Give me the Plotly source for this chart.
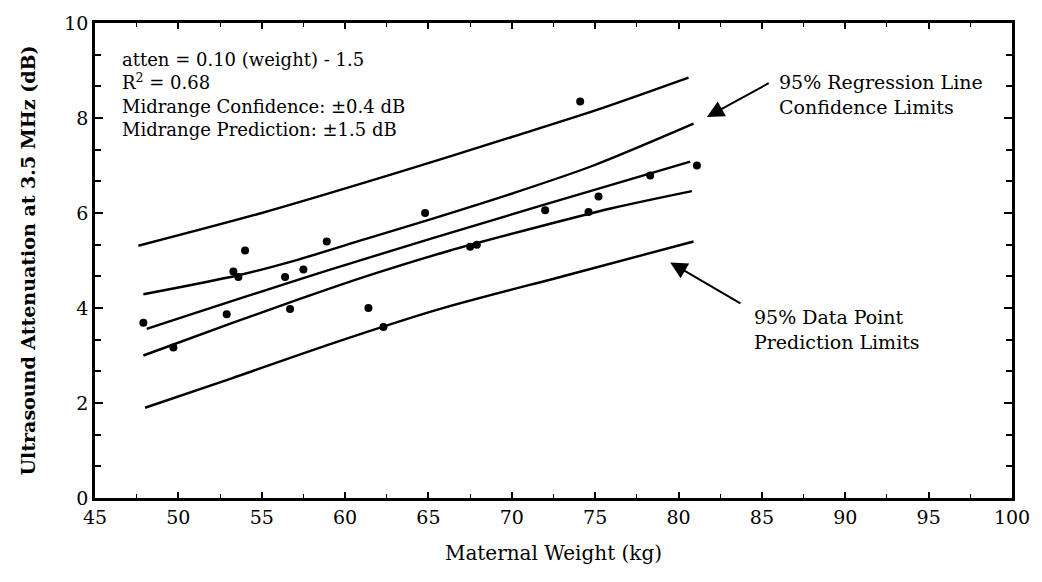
import plotly.graph_objects as go

# ---- data ----
weight = [47.9, 49.7, 52.9, 53.3, 53.6, 54.0, 56.4, 56.7, 57.5, 58.9, 61.4, 62.3,
          64.8, 67.5, 67.9, 72.0, 74.1, 74.6, 75.2, 78.3, 81.1]
atten = [3.69, 3.17, 3.87, 4.77, 4.65, 5.21, 4.65, 3.98, 4.81, 5.40, 4.00, 3.60,
         6.00, 5.29, 5.33, 6.06, 8.35, 6.02, 6.35, 6.79, 7.00]

upper_pred_x = [47.6, 55.0, 62.4, 70.0, 75.1, 80.6]
upper_pred_y = [5.31, 6.00, 6.77, 7.60, 8.17, 8.85]

upper_conf_x = [47.9, 53.6, 57.2, 61.2, 65.6, 70.1, 74.9, 80.9]
upper_conf_y = [4.29, 4.69, 5.02, 5.45, 5.92, 6.42, 7.00, 7.88]

regress_x = [48.1, 59.2, 71.7, 80.7]
regress_y = [3.56, 4.82, 6.15, 7.08]

lower_conf_x = [47.9, 53.2, 57.2, 61.2, 66.2, 71.5, 76.0, 80.8]
lower_conf_y = [3.00, 3.68, 4.18, 4.66, 5.20, 5.70, 6.10, 6.46]

lower_pred_x = [48.0, 53.2, 59.2, 65.6, 73.3, 80.9]
lower_pred_y = [1.90, 2.52, 3.25, 3.97, 4.69, 5.40]

FONT = "DejaVu Serif"

fig = go.Figure()
line_style = dict(color="black", width=2.4)
for xs, ys in [(upper_pred_x, upper_pred_y), (upper_conf_x, upper_conf_y),
               (regress_x, regress_y), (lower_conf_x, lower_conf_y),
               (lower_pred_x, lower_pred_y)]:
    fig.add_trace(go.Scatter(x=xs, y=ys, mode="lines",
                             line=dict(shape="spline", smoothing=0.8, **line_style),
                             showlegend=False, hoverinfo="skip"))

fig.add_trace(go.Scatter(x=weight, y=atten, mode="markers",
                         marker=dict(color="black", size=8), showlegend=False))

fig.update_layout(
    width=1042, height=582,
    margin=dict(l=95, r=24, t=17, b=84),
    paper_bgcolor="white", plot_bgcolor="white",
    font=dict(family=FONT, color="black", size=18),
    xaxis=dict(range=[45, 100], tickmode="linear", tick0=45, dtick=5,
               ticks="inside", ticklen=6, tickwidth=1.5, tickcolor="black",
               showline=True, linecolor="black", linewidth=2.5, mirror="allticks",
               showgrid=False, zeroline=False,
               minor=dict(dtick=2.5, tick0=45, ticks="inside", ticklen=4, tickwidth=1.2,
                          tickcolor="black", showgrid=False),
               tickfont=dict(family=FONT, size=19),
               title=dict(text="Maternal Weight (kg)", font=dict(family=FONT, size=20), standoff=20)),
    yaxis=dict(range=[0, 10], tickmode="linear", tick0=0, dtick=2,
               ticks="inside", ticklen=8, tickwidth=2, tickcolor="black",
               showline=True, linecolor="black", linewidth=2.5, mirror="allticks",
               showgrid=False, zeroline=False,
               minor=dict(dtick=2/3, tick0=0, ticks="inside", ticklen=6, tickwidth=1.5,
                          tickcolor="black", showgrid=False),
               tickfont=dict(family=FONT, size=19),
               title=dict(text="<b>Ultrasound Attenuation at 3.5 MHz (dB)</b>",
                          font=dict(family=FONT, size=19), standoff=24)),
)

fig.add_annotation(xref="x", yref="y", x=46.5, y=8.5, xanchor="left", yanchor="middle",
                   align="left", showarrow=False,
                   text="atten = 0.10 (weight) - 1.5<br>R<sup>2</sup> = 0.68<br>"
                        "Midrange Confidence: ±0.4 dB<br>Midrange Prediction: ±1.5 dB",
                   font=dict(family=FONT, size=18))

fig.add_annotation(xref="x", yref="y", x=85.9, y=8.5, xanchor="left", yanchor="middle",
                   align="left", showarrow=False,
                   text="95% Regression Line<br>Confidence Limits",
                   font=dict(family=FONT, size=19))
fig.add_annotation(xref="x", yref="y", x=84.4, y=3.55, xanchor="left", yanchor="middle",
                   align="left", showarrow=False,
                   text="95% Data Point<br>Prediction Limits",
                   font=dict(family=FONT, size=19))

fig.add_annotation(xref="x", yref="y", axref="x", ayref="y", x=81.7, y=8.02, ax=85.5, ay=8.75,
                   text="", showarrow=True, arrowhead=2, arrowsize=1.7, arrowwidth=2, arrowcolor="black")
fig.add_annotation(xref="x", yref="y", axref="x", ayref="y", x=79.5, y=4.96, ax=83.8, ay=4.08,
                   text="", showarrow=True, arrowhead=2, arrowsize=1.7, arrowwidth=2, arrowcolor="black")

fig.write_html("out.html")
